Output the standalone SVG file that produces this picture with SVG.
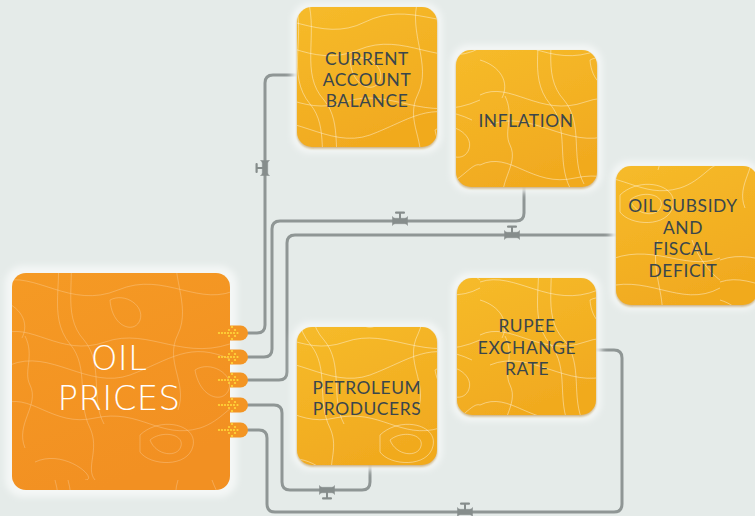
<svg xmlns="http://www.w3.org/2000/svg" xmlns:xlink="http://www.w3.org/1999/xlink" width="755" height="516" viewBox="0 0 755 516">
  <defs>
    <style>
      .pipe { fill: none; stroke: #8f9695; stroke-width: 3; stroke-linecap: round; }
      .valve { fill: #868d8c; stroke: #868d8c; }
      .tile { fill: url(#yellowGrad); }
      .topo { fill: url(#topo); }
      .label { font-family: Lato, "Noto Sans", "Liberation Sans", sans-serif; font-size: 17.4px; fill: #3a464c; text-anchor: middle; letter-spacing: 0.6px; }
      .big { font-family: "DejaVu Sans", Lato, "Liberation Sans", sans-serif; font-weight: 200; font-size: 34px; fill: #ffffff; text-anchor: middle; letter-spacing: 0.3px; }
      .halo { fill: #f4f7f6; filter: url(#soft); }
      .tab { fill: #f39524; }
      .dot { fill: #ffd83a; }
    </style>
    <linearGradient id="yellowGrad" x1="0" y1="0" x2="0.4" y2="1">
      <stop offset="0" stop-color="#f6bb2a"/>
      <stop offset="1" stop-color="#f1aa1f"/>
    </linearGradient>
    <linearGradient id="orangeGrad" x1="0" y1="0" x2="0.4" y2="1">
      <stop offset="0" stop-color="#f59a24"/>
      <stop offset="1" stop-color="#f29022"/>
    </linearGradient>
    <filter id="soft" x="-20%" y="-20%" width="140%" height="140%">
      <feGaussianBlur stdDeviation="3"/>
    </filter>
    <filter id="lift" x="-10%" y="-10%" width="120%" height="125%">
      <feDropShadow dx="0" dy="1.5" stdDeviation="1" flood-color="#a8700c" flood-opacity="0.55"/>
    </filter>
    <!-- contour-line texture laid over every tile -->
    <pattern id="topo" width="240" height="240" patternUnits="userSpaceOnUse">
      <g fill="none" stroke="#ffffff" stroke-opacity="0.4" stroke-width="1">
        <path d="M0,20 C40,5 80,45 125,22 C170,0 205,32 240,18"/>
        <path d="M0,42 C35,30 70,70 118,50 C165,30 200,70 240,48"/>
        <path d="M0,95 C30,80 60,118 105,102 C150,86 185,125 240,100"/>
        <path d="M10,125 C50,108 88,150 130,135 C170,120 190,100 232,120"/>
        <path d="M0,165 C30,150 52,188 95,178 C140,168 160,200 200,188 C222,181 232,162 240,165"/>
        <path d="M140,195 C160,176 198,184 193,206 C188,228 150,226 140,212 Z"/>
        <path d="M150,200 C162,190 184,194 181,206 C178,218 156,216 150,200 Z"/>
        <path d="M35,222 C65,208 100,240 85,240"/>
        <path d="M55,0 C66,38 46,75 70,104 C90,128 76,160 90,188 C100,210 85,228 95,240"/>
        <path d="M68,0 C78,36 60,74 84,100 C104,124 90,158 104,184"/>
        <path d="M178,0 C168,32 192,65 178,94 C164,122 188,142 178,170"/>
        <path d="M25,208 C15,184 40,165 30,145 C23,131 35,116 25,96"/>
        <path d="M195,130 C210,120 234,134 229,149 C224,164 200,159 195,130 Z"/>
        <path d="M110,60 C125,52 145,66 140,80 C135,94 112,88 110,60 Z"/>
        <path d="M0,60 C20,66 30,82 22,98"/>
        <path d="M212,0 C222,28 240,40 240,40"/>
      </g>
    </pattern>
    <!-- inline valve, centred on the pipe, handle pointing to -y -->
    <g id="valve">
      <path class="valve" stroke-width="0.5" d="M-7.5,-4.5 Q-7,-3 -5,-2.7 H5 Q7,-3 7.5,-4.5 V4.5 Q7,3 5,2.7 H-5 Q-7,3 -7.5,4.5 Z"/>
      <rect class="valve" x="-1" y="-8" width="2" height="6" stroke-width="0"/>
      <rect class="valve" x="-5" y="-9.5" width="10" height="2.2" rx="1" stroke-width="0"/>
    </g>
    <!-- dotted arrow printed on each output tab -->
    <g id="dotArrow">
      <circle class="dot" cx="219" cy="0" r="1.1"/>
      <circle class="dot" cx="222" cy="0" r="1.1"/>
      <circle class="dot" cx="225" cy="0" r="1.1"/>
      <circle class="dot" cx="228" cy="0" r="1.1"/>
      <circle class="dot" cx="231" cy="0" r="1.1"/>
      <circle class="dot" cx="234" cy="0" r="1.1"/>
      <circle class="dot" cx="237.5" cy="0" r="1.1"/>
      <circle class="dot" cx="232" cy="-6" r="1.1"/>
      <circle class="dot" cx="235" cy="-3" r="1.1"/>
      <circle class="dot" cx="235" cy="3" r="1.1"/>
      <circle class="dot" cx="232" cy="6" r="1.1"/>
      <circle class="dot" cx="229" cy="-3" r="1"/>
      <circle class="dot" cx="229" cy="3" r="1"/>
    </g>
  </defs>

  <rect width="755" height="516" fill="#e5ebe9"/>

  <!-- pipes -->
  <g id="connectors">
    <path class="pipe" d="M248,333 H257 Q265,333 265,325 V83 Q265,75 273,75 H297"/>
    <path class="pipe" d="M248,357 H264 Q272,357 272,349 V229 Q272,221 280,221 H516 Q524,221 524,213 V187"/>
    <path class="pipe" d="M248,380 H279 Q287,380 287,372 V243 Q287,235 295,235 H616"/>
    <path class="pipe" d="M248,405 H274 Q282,405 282,413 V482 Q282,490 290,490 H362 Q370,490 370,482 V465"/>
    <path class="pipe" d="M248,430 H259 Q267,430 267,438 V504 Q267,512 275,512 H614 Q622,512 622,504 V358 Q622,350 614,350 H596"/>
    <use xlink:href="#valve" transform="translate(265,168) rotate(-90)"/>
    <use xlink:href="#valve" transform="translate(400,221)"/>
    <use xlink:href="#valve" transform="translate(512,235)"/>
    <use xlink:href="#valve" transform="translate(327,490) rotate(180)"/>
    <use xlink:href="#valve" transform="translate(465,512)"/>
  </g>

  <!-- source tile -->
  <g id="oil-prices">
    <rect class="halo" x="5" y="266" width="232" height="231" rx="18"/>
    <rect x="222" y="325.5" width="26" height="15" rx="7.5" class="tab"/>
    <rect x="222" y="349.5" width="26" height="15" rx="7.5" class="tab"/>
    <rect x="222" y="372.5" width="26" height="15" rx="7.5" class="tab"/>
    <rect x="222" y="397.5" width="26" height="15" rx="7.5" class="tab"/>
    <rect x="222" y="422.5" width="26" height="15" rx="7.5" class="tab"/>
    <rect x="12" y="273" width="218" height="217" rx="14" fill="url(#orangeGrad)"/>
    <rect x="12" y="273" width="218" height="217" rx="14" class="topo" opacity="0.55"/>
    <use xlink:href="#dotArrow" transform="translate(0,333)"/>
    <use xlink:href="#dotArrow" transform="translate(0,357)"/>
    <use xlink:href="#dotArrow" transform="translate(0,380)"/>
    <use xlink:href="#dotArrow" transform="translate(0,405)"/>
    <use xlink:href="#dotArrow" transform="translate(0,430)"/>
    <text class="big" x="119" y="370">OIL<tspan x="119" dy="40">PRICES</tspan></text>
  </g>

  <g id="current-account-balance">
    <rect class="halo" x="292" y="3" width="150" height="150" rx="18"/>
    <g filter="url(#lift)">
      <rect class="tile" x="297" y="7" width="140" height="140" rx="15"/>
    </g>
    <rect class="topo" x="297" y="7" width="140" height="140" rx="15"/>
    <text class="label" x="367" y="65">CURRENT<tspan x="367" dy="21">ACCOUNT</tspan><tspan x="367" dy="21">BALANCE</tspan></text>
  </g>

  <g id="inflation">
    <rect class="halo" x="451" y="45" width="151" height="147" rx="18"/>
    <g filter="url(#lift)">
      <rect class="tile" x="456" y="50" width="141" height="137" rx="15"/>
    </g>
    <rect class="topo" x="456" y="50" width="141" height="137" rx="15"/>
    <text class="label" x="526" y="127">INFLATION</text>
  </g>

  <g id="oil-subsidy-fiscal-deficit">
    <rect class="halo" x="611" y="161" width="150" height="149" rx="18"/>
    <g filter="url(#lift)">
      <rect class="tile" x="616" y="166" width="142" height="139" rx="15"/>
    </g>
    <rect class="topo" x="616" y="166" width="142" height="139" rx="15"/>
    <text class="label" x="683" y="212">OIL SUBSIDY<tspan x="683" dy="21.5">AND</tspan><tspan x="683" dy="21.5">FISCAL</tspan><tspan x="683" dy="21.5">DEFICIT</tspan></text>
  </g>

  <g id="rupee-exchange-rate">
    <rect class="halo" x="452" y="273" width="149" height="148" rx="18"/>
    <g filter="url(#lift)">
      <rect class="tile" x="457" y="278" width="139" height="137" rx="15"/>
    </g>
    <rect class="topo" x="457" y="278" width="139" height="137" rx="15"/>
    <text class="label" x="527" y="332">RUPEE<tspan x="527" dy="21.5">EXCHANGE</tspan><tspan x="527" dy="21.5">RATE</tspan></text>
  </g>

  <g id="petroleum-producers">
    <rect class="halo" x="292" y="322" width="150" height="148" rx="18"/>
    <g filter="url(#lift)">
      <rect class="tile" x="297" y="327" width="140" height="138" rx="15"/>
    </g>
    <rect class="topo" x="297" y="327" width="140" height="138" rx="15"/>
    <text class="label" x="367" y="394">PETROLEUM<tspan x="367" dy="21">PRODUCERS</tspan></text>
  </g>
</svg>
